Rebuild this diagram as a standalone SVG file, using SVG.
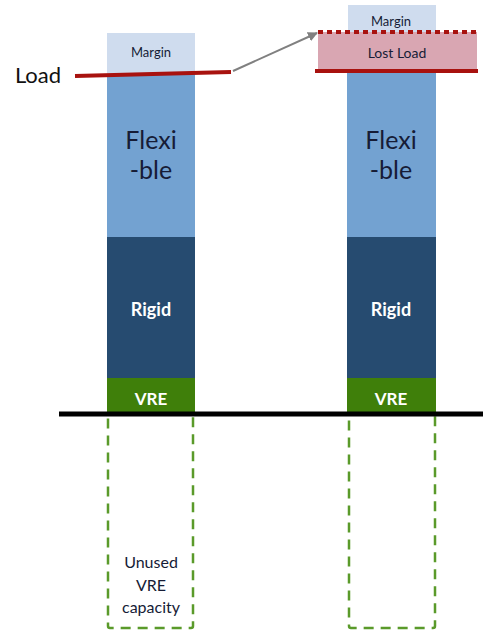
<svg xmlns="http://www.w3.org/2000/svg" width="483" height="630" viewBox="0 0 483 630">
  <defs>
    <style>
      text { font-family: Lato, "Open Sans", "Liberation Sans", sans-serif; text-anchor: middle; }
      .margin { fill: #cfdcee; }
      .flex { fill: #73a2d1; }
      .rigid { fill: #264b70; }
      .vre { fill: #3f7f0a; }
      .lost { fill: #d9a6b2; }
      .lbl { fill: #161c36; }
      .wlbl { fill: #ffffff; font-weight: bold; }
      .load { stroke: #a8120f; stroke-width: 4; fill: none; }
      .unused { fill: none; stroke: #5a9a2a; stroke-width: 2.5; stroke-dasharray: 10 7; }
    </style>
    <marker id="arrowHead" viewBox="0 0 10 10" refX="9" refY="5" markerWidth="5" markerHeight="5" orient="auto">
      <path d="M0,0 L10,5 L0,10 z" fill="#808080"/>
    </marker>
  </defs>

  <rect width="483" height="630" fill="#ffffff"/>

  <!-- left stack: current situation -->
  <g id="left-margin">
    <rect class="margin" x="107" y="33" width="88" height="42"/>
    <text class="lbl" x="151" y="57" font-size="13">Margin</text>
  </g>
  <g id="left-flexible">
    <rect class="flex" x="107" y="74" width="88" height="163"/>
    <text class="lbl" x="151" y="149" font-size="25">Flexi</text>
    <text class="lbl" x="151" y="179" font-size="25">-ble</text>
  </g>
  <g id="left-rigid">
    <rect class="rigid" x="107" y="237" width="88" height="141"/>
    <text class="wlbl" x="151" y="316" font-size="18">Rigid</text>
  </g>
  <g id="left-vre">
    <rect class="vre" x="107" y="378" width="88" height="34"/>
    <text class="wlbl" x="151" y="405" font-size="17">VRE</text>
  </g>
  <g id="left-unused">
    <rect class="unused" x="108" y="414" width="85" height="214" rx="2"/>
    <text class="lbl" x="151" y="568" font-size="16">Unused</text>
    <text class="lbl" x="151" y="591" font-size="16">VRE</text>
    <text class="lbl" x="151" y="613" font-size="16">capacity</text>
  </g>

  <!-- right stack: raised load -->
  <g id="right-margin">
    <rect class="margin" x="348" y="5" width="88" height="30"/>
    <text class="lbl" x="391" y="26" font-size="13">Margin</text>
  </g>
  <g id="right-lost-load">
    <rect class="lost" x="318" y="32" width="159" height="40"/>
    <text class="lbl" x="397" y="58" font-size="14">Lost Load</text>
  </g>
  <g id="right-flexible">
    <rect class="flex" x="347" y="73" width="89" height="164"/>
    <text class="lbl" x="391" y="149" font-size="25">Flexi</text>
    <text class="lbl" x="391" y="179" font-size="25">-ble</text>
  </g>
  <g id="right-rigid">
    <rect class="rigid" x="347" y="237" width="89" height="141"/>
    <text class="wlbl" x="391" y="316" font-size="18">Rigid</text>
  </g>
  <g id="right-vre">
    <rect class="vre" x="347" y="378" width="89" height="34"/>
    <text class="wlbl" x="391" y="405" font-size="17">VRE</text>
  </g>
  <g id="right-unused">
    <rect class="unused" x="349" y="414" width="86" height="214" rx="2"/>
  </g>

  <!-- load levels -->
  <g id="load">
    <text x="38" y="83" font-size="22" fill="#111111">Load</text>
    <path class="load" d="M75,76 L231,72"/>
  </g>
  <g id="load-lines">
    <path class="load" d="M315,71 L478,71"/>
    <path d="M318,32 L477,32" stroke="#a8120f" stroke-width="4" stroke-dasharray="5 4"/>
  </g>

  <!-- ground line and connector -->
  <g id="connectors">
    <path d="M59,414 L483,414" stroke="#000000" stroke-width="5"/>
    <path d="M233,71 L317,33" stroke="#808080" stroke-width="2" fill="none" marker-end="url(#arrowHead)"/>
  </g>
</svg>
